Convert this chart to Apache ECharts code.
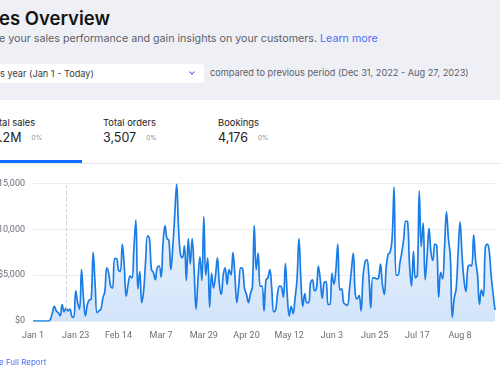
<!DOCTYPE html>
<html lang="en">
<head>
<meta charset="UTF-8">
<title>Sales Overview</title>
<script src="https://cdn.jsdelivr.net/npm/echarts@6/dist/echarts.min.js"></script>
<style>
  html, body { margin: 0; padding: 0; }
  body { width: 500px; height: 375px; overflow: hidden; position: relative; background: #fff;
         font-family: Inter, "Noto Sans", sans-serif; color: #1b1b1f; }
  .abs { position: absolute; white-space: nowrap; }
  .top { left: 0; top: 0; width: 500px; height: 100px; background: #eff0f5; }
  .title { left: -1px; top: 7px; font-size: 18.5px; line-height: 22px; font-weight: 600; color: #141414; }
  .sub { left: -1px; top: 32px; font-size: 10.7px; line-height: 13px; color: #5c5f68; }
  .link { color: #4b6cf5; }
  .select { left: -8px; top: 64px; width: 212px; height: 19px; background: #fff; border-radius: 4px; }
  .select span { position: absolute; left: 8px; top: 0; line-height: 19px; font-size: 9.2px; color: #3a3a3e; }
  .chev { position: absolute; left: 198px; top: 6px; width: 3px; height: 3px;
          border-right: 1px solid #4b6cf5; border-bottom: 1px solid #4b6cf5; transform: rotate(45deg); }
  .compare { left: 210px; top: 67px; font-size: 9.2px; line-height: 12px; color: #5c5f68; }
  .tlabel { top: 117px; font-size: 9.4px; line-height: 12px; color: #222; }
  .tval { top: 130px; font-size: 12.5px; line-height: 16px; color: #222; }
  .pct { font-size: 6.5px; color: #8a8d96; margin-left: 10px; vertical-align: 2px; }
  .under { left: 0; top: 160px; width: 82px; height: 3px; background: #116dff; }
  .sep { left: 0; top: 163px; width: 500px; height: 1px; background: #e7e7eb; }
  .report { left: -1px; top: 357px; font-size: 8px; line-height: 10px; color: #4b6cf5; }
  #chart { position: absolute; left: 0; top: 165px; width: 500px; height: 210px; }
</style>
</head>
<body>
  <div class="abs top"></div>
  <div class="abs title">es Overview</div>
  <div class="abs sub">e your sales performance and gain insights on your customers. <span class="link">Learn more</span></div>
  <div class="abs select"><span>s year (Jan 1 - Today)</span><div class="chev"></div></div>
  <div class="abs compare">compared to previous period (Dec 31, 2022 - Aug 27, 2023)</div>

  <div class="abs tlabel" style="left:-1px">tal sales</div>
  <div class="abs tval" style="left:-1px">.2M<span class="pct">0%</span></div>
  <div class="abs tlabel" style="left:103px">Total orders</div>
  <div class="abs tval" style="left:103px">3,507<span class="pct">0%</span></div>
  <div class="abs tlabel" style="left:218px">Bookings</div>
  <div class="abs tval" style="left:218px">4,176<span class="pct">0%</span></div>
  <div class="abs under"></div>
  <div class="abs sep"></div>

  <div id="chart"></div>
  <div class="abs report">e Full Report</div>

<script>
// daily sales, Jan 1 - Aug 27 2023
var salesByDay = [
  0, 0, 0, 0, 0, 0, 0, 0, 0, 200,
  900, 1600, 1100, 900, 550, 1800, 1000, 1400, 1100, 1300,
  500, 400, 3300, 2000, 1300, 5600, 2500, 550, 1800, 2300,
  2400, 7500, 4000, 900, 1100, 1300, 2500, 3200, 5800, 5200,
  3800, 3600, 6800, 6800, 5600, 5400, 8400, 6000, 2700, 4000,
  4900, 4700, 8000, 11000, 3500, 5400, 2000, 3300, 6500, 9300,
  9000, 5600, 5300, 4500, 5800, 6000, 4800, 8500, 10400, 9000,
  8800, 5600, 8000, 11500, 14900, 10000, 7200, 6900, 8200, 4400,
  9000, 6200, 9000, 5500, 1300, 4500, 7000, 4400, 11400, 5000,
  6900, 1500, 5200, 3600, 4900, 6900, 4000, 2900, 5000, 5800,
  4000, 5600, 5000, 7500, 5000, 2000, 3800, 5800, 5700, 3500,
  2900, 2000, 3000, 3700, 10400, 5600, 7400, 3800, 3800, 1100,
  4500, 4700, 5600, 3500, 1000, 1200, 3000, 3800, 3700, 2600,
  6300, 2800, 550, 1600, 800, 2500, 4500, 9000, 4500, 1600,
  3000, 2000, 2000, 4200, 4500, 3300, 3500, 6000, 4500, 2500,
  4200, 4300, 1800, 1800, 5200, 4000, 5500, 8400, 3400, 3500,
  2000, 1800, 1700, 3400, 5500, 7400, 3000, 2400, 2800, 1100,
  4800, 6400, 6700, 5000, 1400, 4700, 4700, 4600, 4700, 6200,
  4000, 2900, 6000, 7300, 7500, 9000, 14600, 5000, 5000, 6300,
  7500, 9000, 10900, 10800, 6000, 3800, 7600, 4700, 5000, 14200,
  8100, 10700, 4500, 7000, 10100, 7500, 6600, 8400, 8200, 2600,
  5300, 4600, 8000, 11900, 9000, 7000, 400, 2500, 3500, 7500,
  10800, 7200, 4500, 3200, 5800, 6100, 6000, 9400, 6600, 5000,
  1800, 3400, 2700, 8000, 8400, 7700, 5000, 3000, 1200
];
// x tick labels as printed on the chart, one every 22 points
var tickLabels = ['Jan 1', 'Jan 23', 'Feb 14', 'Mar 7', 'Mar 29', 'Apr 20',
                  'May 12', 'Jun 3', 'Jun 25', 'Jul 17', 'Aug 8'];
var tickStep = 22;
var yTicks = [0, 5000, 10000, 15000];
var monthNames = ['Jan', 'Feb', 'Mar', 'Apr', 'May', 'Jun', 'Jul', 'Aug'];

var days = [];
for (var i = 0; i < salesByDay.length; i++) {
  var d = new Date(2023, 0, 1 + i);
  days.push(monthNames[d.getMonth()] + ' ' + d.getDate());
}

var chart = echarts.init(document.getElementById('chart'));
chart.setOption({
  animation: false,
  grid: { left: 33, right: 5, top: 18.5, bottom: 54, containLabel: false, outerBoundsMode: 'none' },
  xAxis: {
    type: 'category',
    data: days,
    boundaryGap: false,
    axisLine: { show: false },
    axisTick: { show: false },
    axisLabel: {
      interval: tickStep - 1, margin: 10, fontSize: 9, color: '#6a6e78', fontFamily: 'Roboto',
      formatter: function (v, idx) { return tickLabels[Math.round(idx / tickStep)] || v; }
    }
  },
  yAxis: {
    type: 'value',
    min: yTicks[0],
    max: yTicks[yTicks.length - 1],
    interval: 5000,
    axisLabel: {
      fontSize: 9, color: '#6a6e78', fontFamily: 'Roboto', margin: 8,
      formatter: function (v) { return '$' + v.toLocaleString('en-US'); }
    },
    splitLine: { lineStyle: { color: '#ececf0', width: 1 } }
  },
  series: [{
    type: 'line',
    data: salesByDay,
    smooth: 0.4,
    symbol: 'none',
    lineStyle: { color: '#1a7de6', width: 1.7 },
    areaStyle: {
      opacity: 1,
      color: new echarts.graphic.LinearGradient(0, 0, 0, 1, [
        { offset: 0, color: '#f4f8fe' },
        { offset: 1, color: '#d2e4fa' }
      ])
    },
    markLine: {
      silent: true,
      symbol: 'none',
      label: { show: false },
      lineStyle: { color: '#d5d6dc', type: 'dashed', width: 1 },
      data: [{ xAxis: days[17] }]
    }
  }]
});
</script>
</body>
</html>
